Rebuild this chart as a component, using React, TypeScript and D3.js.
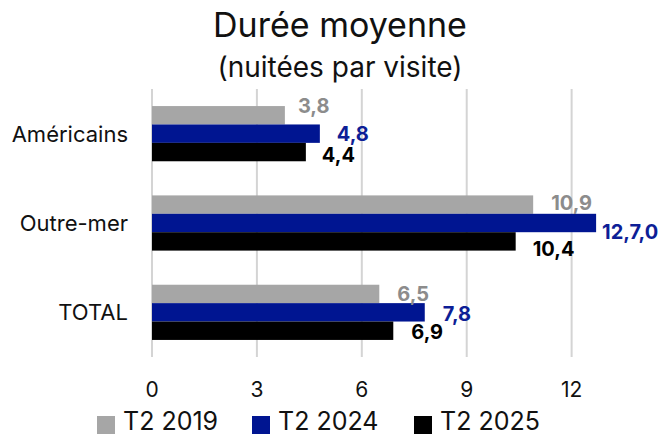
import { useEffect, useRef } from "react";
import * as d3 from "d3";

const categories = ["Américains", "Outre-mer", "TOTAL"];
const seriesNames = ["T2 2019", "T2 2024", "T2 2025"];
const values2019 = [3.8, 10.9, 6.5];
const values2024 = [4.8, 12.7, 7.8];
const values2025 = [4.4, 10.4, 6.9];
const labels2019 = ["3,8", "10,9", "6,5"];
const labels2024 = ["4,8", "12,7,0", "7,8"];
const labels2025 = ["4,4", "10,4", "6,9"];
const xTicks = [0, 3, 6, 9, 12];

const colors = ["#a6a6a6", "#001591", "#000000"];
const labelColors = ["#8c8c8c", "#0d1e96", "#000000"];
// manual label nudges [dx, dy] per category, per series (as placed in the original)
const nudges = [
  [[-4, -9], [0, 0], [-1, 3]],
  [[1, -2], [-11, 9], [0, 7]],
  [[1, 0], [1, 1], [1, 1]],
];

const W = 663;
const H = 438;
const FONT = "Inter, 'Noto Sans', sans-serif";

export default function App() {
  const ref = useRef<SVGSVGElement>(null);

  useEffect(() => {
    const svg = d3.select(ref.current);
    svg.selectAll("*").remove();

    const x = d3.scaleLinear().domain([0, 13]).range([152, 606.6]);
    const y = d3.scaleBand().domain(categories).range([89, 357]).paddingInner(0.382).paddingOuter(0.191);
    const ys = d3.scaleBand().domain(seriesNames).range([0, y.bandwidth()]);

    const data = [values2019, values2024, values2025];
    const labels = [labels2019, labels2024, labels2025];

    // title
    svg.append("text").attr("x", 340).attr("y", 37).attr("text-anchor", "middle")
      .attr("font-family", FONT).attr("font-size", 34).attr("fill", "#111").text("Durée moyenne");
    svg.append("text").attr("x", 340).attr("y", 77).attr("text-anchor", "middle")
      .attr("font-family", FONT).attr("font-size", 28).attr("fill", "#111").text("(nuitées par visite)");

    // gridlines
    svg.append("g").selectAll("line").data(xTicks).join("line")
      .attr("x1", (d) => x(d)).attr("x2", (d) => x(d))
      .attr("y1", 89).attr("y2", 357)
      .attr("stroke", "#d4d4d4").attr("stroke-width", 2);

    // bars
    seriesNames.forEach((s, si) => {
      svg.append("g").selectAll("rect").data(categories).join("rect")
        .attr("x", x(0))
        .attr("y", (c) => (y(c) as number) + (ys(s) as number))
        .attr("width", (c, i) => x(data[si][i]) - x(0))
        .attr("height", ys.bandwidth())
        .attr("fill", colors[si]);
    });

    // value labels
    seriesNames.forEach((s, si) => {
      svg.append("g").selectAll("text").data(categories).join("text")
        .attr("x", (c, i) => x(data[si][i]) + 17 + nudges[i][si][0])
        .attr("y", (c, i) => (y(c) as number) + (ys(s) as number) + ys.bandwidth() / 2 + nudges[i][si][1])
        .attr("dy", "0.36em")
        .attr("font-family", FONT).attr("font-size", 20).attr("font-weight", 700)
        .attr("fill", labelColors[si])
        .text((c, i) => labels[si][i]);
    });

    // category labels
    svg.append("g").selectAll("text").data(categories).join("text")
      .attr("x", 128)
      .attr("y", (c) => (y(c) as number) + y.bandwidth() / 2)
      .attr("dy", "0.36em").attr("text-anchor", "end")
      .attr("font-family", FONT).attr("font-size", 22).attr("fill", "#111")
      .text((c) => c);

    // x axis tick labels
    svg.append("g").selectAll("text").data(xTicks).join("text")
      .attr("x", (d) => x(d)).attr("y", 397).attr("text-anchor", "middle")
      .attr("font-family", FONT).attr("font-size", 21).attr("fill", "#111")
      .text((d) => d3.format("d")(d));

    // legend
    const legendX = [97, 252, 414];
    const legend = svg.append("g").selectAll("g").data(seriesNames).join("g")
      .attr("transform", (d, i) => `translate(${legendX[i]},0)`);
    legend.append("rect").attr("x", 0).attr("y", 416).attr("width", 18).attr("height", 18)
      .attr("fill", (d, i) => colors[i]);
    legend.append("text").attr("x", 26).attr("y", 430)
      .attr("font-family", FONT).attr("font-size", 25).attr("fill", "#111")
      .text((d) => d);
  }, []);

  return <svg ref={ref} width={W} height={H} style={{ position: "absolute", left: 0, top: 0, background: "#fff" }} />;
}
